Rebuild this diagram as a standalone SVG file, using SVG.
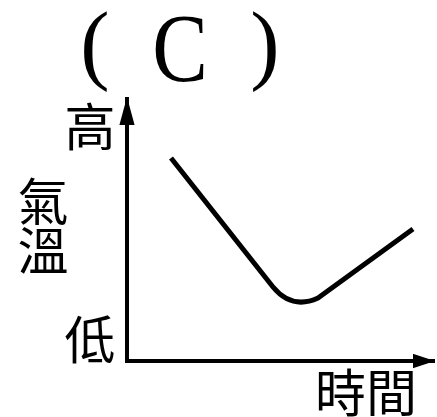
<svg xmlns="http://www.w3.org/2000/svg" width="437" height="417" viewBox="0 0 437 417">
<style>
.cjk{font-family:"Noto Sans CJK TC","Noto Sans CJK SC",sans-serif;font-size:51px;fill:#000}
.ser{font-family:"Liberation Serif",serif;fill:#000}
.ax{stroke:#000;stroke-width:4;fill:none}
.curve{stroke:#000;stroke-width:5;fill:none;stroke-linecap:butt;stroke-linejoin:round}
</style>
<defs>
<marker id="arrV" viewBox="0 0 10 10" refX="10" refY="5" markerWidth="7" markerHeight="3.8" markerUnits="strokeWidth" orient="auto" preserveAspectRatio="none">
<path d="M0,0 L10,5 L0,10 z" fill="#000"/>
</marker>
<marker id="arrH" viewBox="0 0 10 10" refX="10" refY="5" markerWidth="5.5" markerHeight="3.6" markerUnits="strokeWidth" orient="auto" preserveAspectRatio="none">
<path d="M0,0 L10,5 L0,10 z" fill="#000"/>
</marker>
</defs>
<g id="title">
<text class="ser" x="95" y="73" font-size="88" text-anchor="middle">(</text>
<text class="ser" x="180" y="81" font-size="97" text-anchor="middle" transform="translate(180,0) scale(0.86,1) translate(-180,0)">C</text>
<text class="ser" x="265" y="73" font-size="88" text-anchor="middle">)</text>
</g>
<g id="connectors">
<path class="ax" d="M127,361 L127,97" marker-end="url(#arrV)"/>
<path class="ax" d="M125,361 L435,361" marker-end="url(#arrH)"/>
</g>
<g id="curve">
<path class="curve" d="M171,158 L273,287 Q292,310 318,298 L413,229"/>
</g>
<g id="labels">
<text class="cjk" x="90" y="146" text-anchor="middle">高</text>
<text class="cjk" x="43" y="221" text-anchor="middle">氣</text>
<text class="cjk" x="43" y="270" text-anchor="middle">溫</text>
<text class="cjk" x="90" y="359" text-anchor="middle">低</text>
<text class="cjk" x="315" y="412">時間</text>
</g>
</svg>
